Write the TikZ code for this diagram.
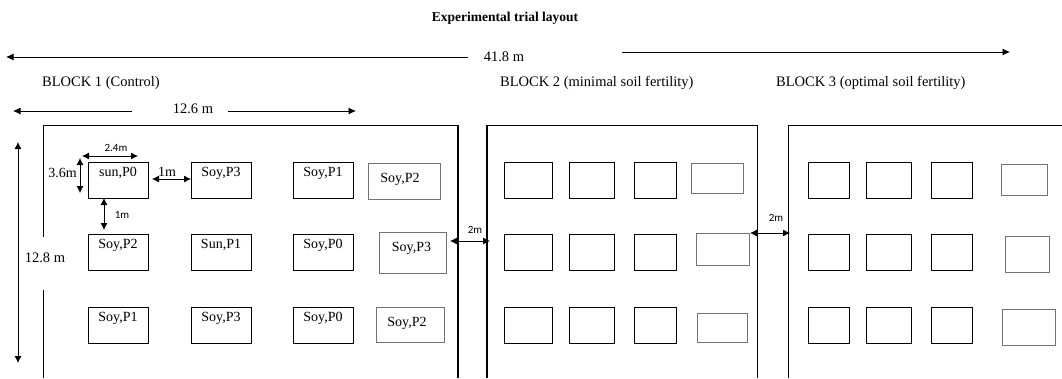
\documentclass[tikz,border=0pt]{standalone}
\usepackage{fontspec}
\setmainfont{Liberation Serif}
\newfontfamily\calibrifont{Carlito}
\usetikzlibrary{arrows.meta}
\newcommand\mkplot[6]{\node[#6, minimum width={#4-#2}, minimum height={#5-#3}] (#1) at ({(#2+#4)/2},{(#3+#5)/2}) {};}
\begin{document}
\begin{tikzpicture}[x=1pt,y=-1pt,
  plot/.style={draw=black, line width=0.9pt, inner sep=0pt, outer sep=0pt},
  gplot/.style={draw=black!55, line width=0.9pt, inner sep=0pt, outer sep=0pt},
  lbl/.style={font=\fontsize{14}{16}\selectfont, inner sep=0pt, anchor=base},
  sm/.style={font=\calibrifont\fontsize{11}{13}\selectfont, inner sep=0pt},
  dimtxt/.style={font=\fontsize{14.5}{16}\selectfont, inner sep=0pt},
  tip/.style={-{Latex[length=7.5pt,width=7pt]}, line width=0.8pt},
  dtip/.style={{Latex[length=7pt,width=7pt]}-{Latex[length=7pt,width=7pt]}, line width=0.8pt},
  wall/.style={line width=0.9pt},
  heavywall/.style={line width=1.8pt}
]
\useasboundingbox (0,0) rectangle (1062,378);

% title
\node[font=\bfseries\fontsize{13.5}{16}\selectfont, inner sep=0pt] (title) at (505,18) {Experimental trial layout};

% overall width
\node[dimtxt] (w418) at (504,57) {41.8 m};
\coordinate (w418La) at (468,57);
\coordinate (w418Lb) at (6,57);
\coordinate (w418Ra) at (622,52);
\coordinate (w418Rb) at (1010,52);
\draw[tip] (w418La) -- (w418Lb);
\draw[tip] (w418Ra) -- (w418Rb);

% block labels
\node[dimtxt, anchor=west] (blk1) at (42,83) {BLOCK 1 (Control)};
\node[dimtxt, anchor=west] (blk2) at (500,83) {BLOCK 2 (minimal soil fertility)};
\node[dimtxt, anchor=west] (blk3) at (776,83) {BLOCK 3 (optimal soil fertility)};

% block width
\node[dimtxt] (w126) at (193,109) {12.6 m};
\coordinate (w126La) at (132,111);
\coordinate (w126Lb) at (13,111);
\coordinate (w126Ra) at (228,111);
\coordinate (w126Rb) at (356,111);
\draw[tip] (w126La) -- (w126Lb);
\draw[tip] (w126Ra) -- (w126Rb);

% block walls
\draw[wall] (43,378) -- (43,125) -- (458,125);
\draw[heavywall] (458,124.5) -- (458,378);
\draw[heavywall] (487,378) -- (487,124.5);
\draw[wall] (487,125) -- (757,125) -- (757,378);
\draw[wall] (788,378) -- (788,125) -- (1062,125);

% block length
\coordinate (h128a) at (18,142);
\coordinate (h128b) at (18,363);
\draw[dtip] (h128a) -- (h128b);
\fill[white] (24,237) rectangle (66,290);
\node[dimtxt] (h128) at (45,258) {12.8 m};

% ---- Block 1 plots
\mkplot{b1ra}{88}{162}{148}{198}{plot}
\mkplot{b1rb}{191}{162}{251}{198}{plot}
\mkplot{b1rc}{293}{162}{353}{198}{plot}
\mkplot{b1rd}{368}{163}{440}{199}{gplot}
\mkplot{b1sa}{88}{234}{148}{270}{plot}
\mkplot{b1sb}{191}{234}{251}{270}{plot}
\mkplot{b1sc}{293}{234}{353}{270}{plot}
\mkplot{b1sd}{379}{232}{446}{273}{gplot}
\mkplot{b1ta}{88}{307}{148}{343}{plot}
\mkplot{b1tb}{191}{307}{251}{343}{plot}
\mkplot{b1tc}{293}{307}{353}{343}{plot}
\mkplot{b1td}{376}{307}{444}{342}{gplot}

\node[lbl] at ([yshift=-14.6pt]b1ra.north) {sun,P0};
\node[lbl] at ([yshift=-14.6pt]b1rb.north) {Soy,P3};
\node[lbl] at ([yshift=-14.6pt]b1rc.north) {Soy,P1};
\node[lbl] at ([xshift=-4pt,yshift=-1.5pt]b1rd.center) {Soy,P2};
\node[lbl] at ([yshift=-14.6pt]b1sa.north) {Soy,P2};
\node[lbl] at ([yshift=-14.6pt]b1sb.north) {Sun,P1};
\node[lbl] at ([yshift=-14.6pt]b1sc.north) {Soy,P0};
\node[lbl] at ([xshift=-1pt,yshift=1pt]b1sd.center) {Soy,P3};
\node[lbl] at ([yshift=-14.6pt]b1ta.north) {Soy,P1};
\node[lbl] at ([yshift=-14.6pt]b1tb.north) {Soy,P3};
\node[lbl] at ([yshift=-14.6pt]b1tc.north) {Soy,P0};
\node[lbl] at ([xshift=-3pt,yshift=-2pt]b1td.center) {Soy,P2};

% ---- Block 2 plots
\mkplot{b2ra}{504}{162}{552}{198}{plot}
\mkplot{b2rb}{569}{162}{614}{198}{plot}
\mkplot{b2rc}{634}{162}{676}{198}{plot}
\mkplot{b2rd}{691}{163}{743}{193}{gplot}
\mkplot{b2sa}{504}{234}{552}{270}{plot}
\mkplot{b2sb}{569}{234}{614}{270}{plot}
\mkplot{b2sc}{634}{234}{676}{270}{plot}
\mkplot{b2sd}{696}{233}{749}{265}{gplot}
\mkplot{b2ta}{504}{307}{552}{343}{plot}
\mkplot{b2tb}{569}{307}{614}{343}{plot}
\mkplot{b2tc}{634}{307}{676}{343}{plot}
\mkplot{b2td}{697}{313}{747}{342}{gplot}

% ---- Block 3 plots
\mkplot{b3ra}{808}{162}{849}{198}{plot}
\mkplot{b3rb}{866}{162}{911}{198}{plot}
\mkplot{b3rc}{931}{162}{972}{198}{plot}
\mkplot{b3rd}{1001}{164}{1047}{195}{gplot}
\mkplot{b3sa}{808}{234}{849}{270}{plot}
\mkplot{b3sb}{866}{234}{911}{270}{plot}
\mkplot{b3sc}{931}{234}{972}{270}{plot}
\mkplot{b3sd}{1005}{236}{1049}{272}{gplot}
\mkplot{b3ta}{808}{307}{849}{343}{plot}
\mkplot{b3tb}{866}{307}{911}{343}{plot}
\mkplot{b3tc}{931}{307}{972}{343}{plot}
\mkplot{b3td}{1002}{309}{1055}{345}{gplot}

% ---- plot dimension arrows (block 1)
\coordinate (d24a) at (82,156);
\coordinate (d24b) at (138,156);
\draw[dtip] (d24a) -- (d24b);
\node[sm] (l24) at (116,148) {2.4m};

\coordinate (d36a) at (80,158);
\coordinate (d36b) at (80,193);
\draw[dtip] (d36a) -- (d36b);
\node[lbl, anchor=base east] (l36) at (77,177.5) {3.6m};

\coordinate (d1ha) at (152,179);
\coordinate (d1hb) at (b1rb.west |- d1ha);
\draw[dtip] (d1ha) -- (d1hb);
\node[lbl] (l1h) at (167,176) {1m};

\coordinate (d1va) at (b1ra.south -| 104,0);
\coordinate (d1vb) at (104,230);
\draw[dtip] (d1va) -- (d1vb);
\node[sm] (l1v) at (122,215) {1m};

% ---- gaps between blocks
\coordinate (g12a) at (450,241);
\coordinate (g12b) at (490,241);
\draw[dtip] (g12a) -- (g12b);
\node[sm] (l12) at (475,230) {2m};

\coordinate (g23a) at (750,233);
\coordinate (g23b) at (790,233);
\draw[dtip] (g23a) -- (g23b);
\node[sm] (l23) at (776,218) {2m};
\end{tikzpicture}
\end{document}
